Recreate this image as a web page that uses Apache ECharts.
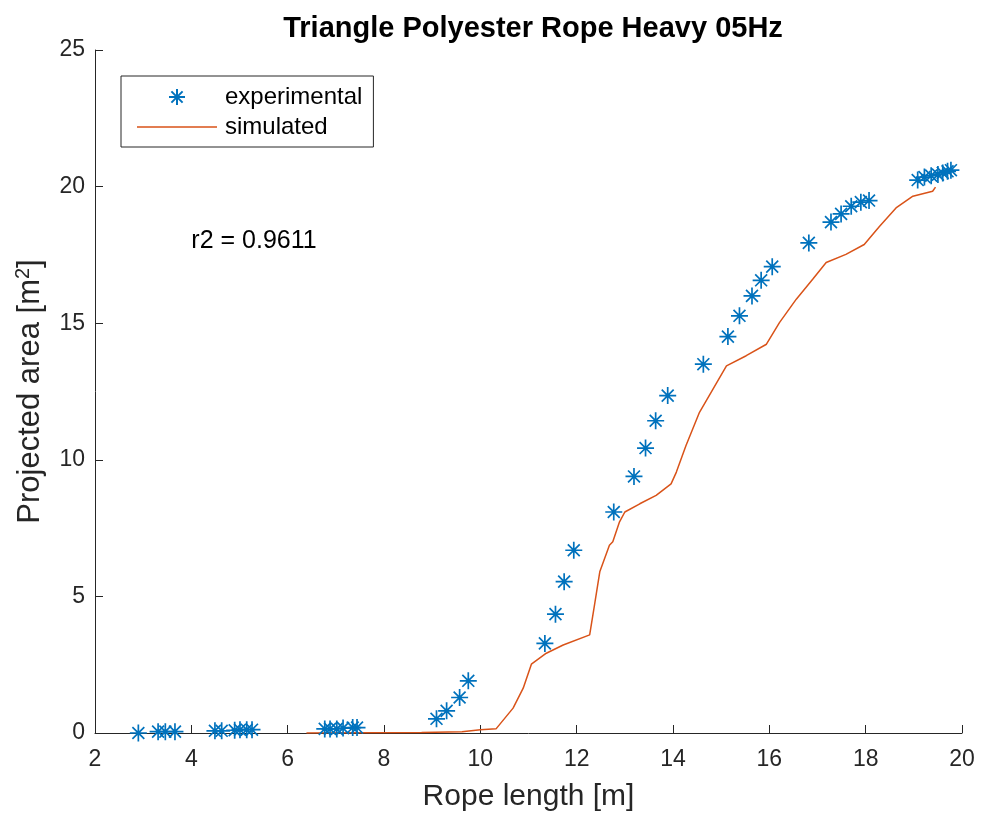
<!DOCTYPE html>
<html>
<head>
<meta charset="utf-8">
<script src="https://cdn.jsdelivr.net/npm/echarts@6/dist/echarts.min.js"></script>
<style>html,body{margin:0;padding:0;background:#fff}#c{width:982px;height:817px}</style>
</head>
<body>
<div id="c"></div>
<script>
var titleText = 'Triangle Polyester Rope Heavy 05Hz';
var xTicks = [2, 4, 6, 8, 10, 12, 14, 16, 18, 20];
var yTicks = [0, 5, 10, 15, 20, 25];

var expX = [2.90, 3.31, 3.46, 3.66, 4.49, 4.63, 4.90, 5.01, 5.15, 5.26,
  6.77, 6.88, 7.02, 7.15, 7.35, 7.44,
  9.09, 9.30, 9.57, 9.75,
  11.34, 11.56, 11.74, 11.94,
  12.77, 13.19, 13.43, 13.64, 13.89, 14.63,
  15.14, 15.38, 15.64, 15.83, 16.06, 16.82,
  17.28, 17.49, 17.70, 17.90, 18.07,
  19.08, 19.22, 19.36, 19.50, 19.60, 19.70, 19.77];
var expY = [0.0, 0.05, 0.05, 0.05, 0.08, 0.08, 0.10, 0.12, 0.12, 0.12,
  0.15, 0.15, 0.15, 0.18, 0.2, 0.2,
  0.52, 0.81, 1.30, 1.91,
  3.28, 4.35, 5.54, 6.69,
  8.09, 9.39, 10.43, 11.43, 12.35, 13.50,
  14.51, 15.27, 16.00, 16.57, 17.07, 17.94,
  18.70, 19.00, 19.28, 19.43, 19.49,
  20.24, 20.35, 20.40, 20.44, 20.50, 20.56, 20.60];

var simX = [6.39, 8.78, 9.62, 9.66, 10.00, 10.33, 10.68, 10.89, 11.06, 11.37, 11.72, 12.27,
  12.37, 12.48, 12.68, 12.75, 12.89, 13.00, 13.31, 13.65, 13.96, 14.07, 14.27, 14.55,
  14.83, 15.11, 15.52, 15.94, 16.21, 16.56, 16.90, 17.18, 17.59, 17.97, 18.29, 18.63,
  18.98, 19.39, 19.45];
var simY = [0.0, 0.02, 0.05, 0.12, 0.12, 0.16, 0.91, 1.64, 2.52, 2.92, 3.22, 3.59,
  4.68, 5.90, 6.87, 7.0, 7.73, 8.09, 8.39, 8.70, 9.12, 9.55, 10.52, 11.74,
  12.59, 13.44, 13.81, 14.23, 15.02, 15.88, 16.61, 17.22, 17.52, 17.88, 18.55, 19.22,
  19.65, 19.83, 19.98];

var r2Text = 'r2 = 0.9611';
var r2Pos = [4.0, 18.0];

function zip(a, b) { return a.map(function (v, i) { return [v, b[i]]; }); }

var FONT = '"Liberation Sans", Arial, Helvetica, sans-serif';
var AX = '#262626';
var starPath = 'path://M0,-10 L0,10 M-10,0 L10,0 M-7,-7 L7,7 M-7,7 L7,-7';
var lineIcon = 'path://M0,0 L0.01,0 L0.01,0.01 Z M0,7.3 L80,7.3 L80,8.7 L0,8.7 Z M0,16 L0.01,16 L0.01,15.99 Z';

var chart = echarts.init(document.getElementById('c'), null, { renderer: 'canvas' });
var option = {
  animation: false,
  backgroundColor: '#fff',
  title: {
    text: titleText, left: 528, top: 9, textAlign: 'center',
    textStyle: { fontFamily: FONT, fontSize: 29, fontWeight: 'bold', color: '#000' }
  },
  grid: { left: 95, right: 20, top: 50, bottom: 82 },
  legend: {
    orient: 'vertical', left: 121, top: 76,
    padding: [9, 11, 8, 16],
    itemWidth: 80, itemHeight: 16, itemGap: 6,
    borderColor: '#262626', borderWidth: 1,
    backgroundColor: '#fff',
    textStyle: { fontFamily: FONT, fontSize: 24, color: '#000', padding: [0, 0, 0, 3] },
    data: [
      { name: 'experimental' },
      { name: 'simulated', icon: lineIcon, itemStyle: { color: '#D95319' } }
    ]
  },
  xAxis: {
    type: 'value', min: xTicks[0], max: xTicks[xTicks.length - 1], interval: 2,
    name: 'Rope length [m]', nameLocation: 'middle', nameGap: 49,
    nameTextStyle: { fontFamily: FONT, fontSize: 30, color: AX },
    axisLine: { onZero: false, lineStyle: { color: AX, width: 1 } },
    axisTick: { inside: true, length: 8, lineStyle: { color: AX } },
    axisLabel: { fontFamily: FONT, fontSize: 23, color: AX, margin: 15 },
    splitLine: { show: false }
  },
  yAxis: {
    type: 'value', min: yTicks[0], max: yTicks[yTicks.length - 1], interval: 5,
    name: 'Projected area [m{sup|2}]', nameLocation: 'middle', nameGap: 47,
    nameTextStyle: {
      fontFamily: FONT, fontSize: 31, color: AX,
      rich: { sup: { fontFamily: FONT, fontSize: 20, color: AX, verticalAlign: 'bottom', padding: [0, 0, 15, 0] } }
    },
    axisLine: { show: true, onZero: false, lineStyle: { color: AX, width: 1 } },
    axisTick: { show: true, inside: true, length: 8, lineStyle: { color: AX } },
    axisLabel: { fontFamily: FONT, fontSize: 23, color: AX, margin: 10 },
    splitLine: { show: false }
  },
  series: [
    {
      name: 'experimental', type: 'scatter', data: zip(expX, expY),
      symbol: starPath, symbolSize: 17, symbolKeepAspect: true,
      itemStyle: { color: 'rgba(0,0,0,0)', borderColor: '#0072BD', borderWidth: 1.7, opacity: 1 },
      z: 3
    },
    {
      name: 'simulated', type: 'line', data: zip(simX, simY),
      showSymbol: false, symbol: 'none',
      lineStyle: { color: '#D95319', width: 1.5 },
      itemStyle: { color: '#D95319' },
      z: 2
    }
  ]
};
chart.setOption(option);
var p = chart.convertToPixel({ gridIndex: 0 }, r2Pos);
chart.setOption({
  graphic: [{
    type: 'text', left: p[0], top: p[1] - 13,
    style: { text: r2Text, fontFamily: FONT, fontSize: 25, fill: '#000' }
  }]
});
</script>
</body>
</html>
